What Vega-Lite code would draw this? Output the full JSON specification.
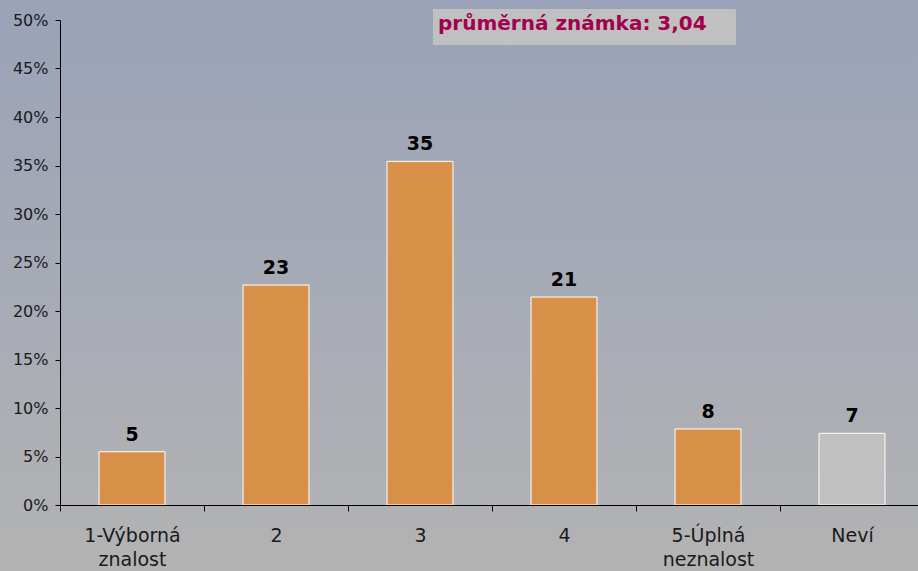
{
  "$schema": "https://vega.github.io/schema/vega-lite/v6.json",
  "width": 864,
  "height": 485,
  "autosize": {"type": "none"},
  "padding": {"left": 60, "top": 20, "right": 0, "bottom": 66},
  "background": "#a8aab5",
  "config": {
    "view": {"stroke": null},
    "axis": {"domainColor": "#000000", "tickColor": "#000000", "labelColor": "#1a1a1a", "labelFont": "DejaVu Sans", "grid": false}
  },
  "datasets": {
    "bars": [
      {"category": "1-Výborná znalost", "value": 5.49, "label": "5", "group": "a"},
      {"category": "2", "value": 22.68, "label": "23", "group": "a"},
      {"category": "3", "value": 35.43, "label": "35", "group": "a"},
      {"category": "4", "value": 21.44, "label": "21", "group": "a"},
      {"category": "5-Úplná neznalost", "value": 7.84, "label": "8", "group": "a"},
      {"category": "Neví", "value": 7.39, "label": "7", "group": "b"}
    ],
    "decor": [
      {"bgx": -0.06944, "bgx2": 1.0, "bgy": 52.062, "bgy2": -6.804,
       "bx": 0.4317, "bx2": 0.7824, "by": 51.134, "by2": 47.42,
       "tx": 0.4375, "ty": 48.92, "text": "průměrná známka: 3,04"}
    ]
  },
  "layer": [
    {
      "data": {"name": "decor"},
      "layer": [
        {
          "mark": {"type": "rect", "fill": {"gradient": "linear", "x1": 0, "y1": 0, "x2": 0, "y2": 1, "stops": [{"offset": 0, "color": "#9aa2b8"}, {"offset": 1, "color": "#b3b3b3"}]}},
          "encoding": {
            "x": {"field": "bgx", "type": "quantitative", "scale": {"domain": [0, 1], "nice": false, "zero": false}, "axis": null},
            "x2": {"field": "bgx2"},
            "y": {"field": "bgy", "type": "quantitative", "scale": {"domain": [0, 50], "nice": false}, "axis": null},
            "y2": {"field": "bgy2"}
          }
        },
        {
          "mark": {"type": "rect", "fill": "#c0c0c0"},
          "encoding": {
            "x": {"field": "bx", "type": "quantitative", "axis": null},
            "x2": {"field": "bx2"},
            "y": {"field": "by", "type": "quantitative", "axis": null},
            "y2": {"field": "by2"}
          }
        },
        {
          "mark": {"type": "text", "align": "left", "baseline": "alphabetic", "font": "DejaVu Sans", "fontWeight": "bold", "fontSize": 20, "color": "#a3004e"},
          "encoding": {
            "x": {"field": "tx", "type": "quantitative", "axis": null},
            "y": {"field": "ty", "type": "quantitative", "axis": null},
            "text": {"field": "text"}
          }
        }
      ]
    },
    {
      "data": {"name": "bars"},
      "layer": [
        {
          "mark": {"type": "bar", "width": {"band": 0.458}, "stroke": "#ffffff", "strokeWidth": 1},
          "encoding": {
            "x": {"field": "category", "type": "nominal", "sort": null,
              "scale": {"paddingInner": 0, "paddingOuter": 0},
              "axis": {"orient": "bottom", "zindex": 2, "title": null, "labelAngle": 0, "labelFontSize": 19, "labelExpr": "isValid(datum.value) ? split(datum.value, ' ') : ''", "labelLineHeight": 24, "tickSize": 6, "tickBand": "extent", "labelPadding": 15, "domainWidth": 1}},
            "y": {"field": "value", "type": "quantitative",
              "scale": {"domain": [0, 50], "nice": false},
              "axis": {"orient": "left", "zindex": 2, "title": null, "values": [0, 5, 10, 15, 20, 25, 30, 35, 40, 45, 50], "labelExpr": "datum.value + '%'", "labelFontSize": 16, "tickSize": 5, "labelPadding": 7}},
            "color": {"field": "group", "type": "nominal", "scale": {"domain": ["a", "b"], "range": ["#d9914a", "#c0c0c0"]}, "legend": null}
          }
        },
        {
          "mark": {"type": "text", "baseline": "alphabetic", "dy": -11, "font": "DejaVu Sans", "fontWeight": "bold", "fontSize": 19, "color": "#000000"},
          "encoding": {
            "x": {"field": "category", "type": "nominal", "sort": null},
            "y": {"field": "value", "type": "quantitative"},
            "text": {"field": "label"}
          }
        }
      ]
    }
  ],
  "resolve": {"scale": {"x": "independent"}, "axis": {"x": "independent", "y": "independent"}}
}
